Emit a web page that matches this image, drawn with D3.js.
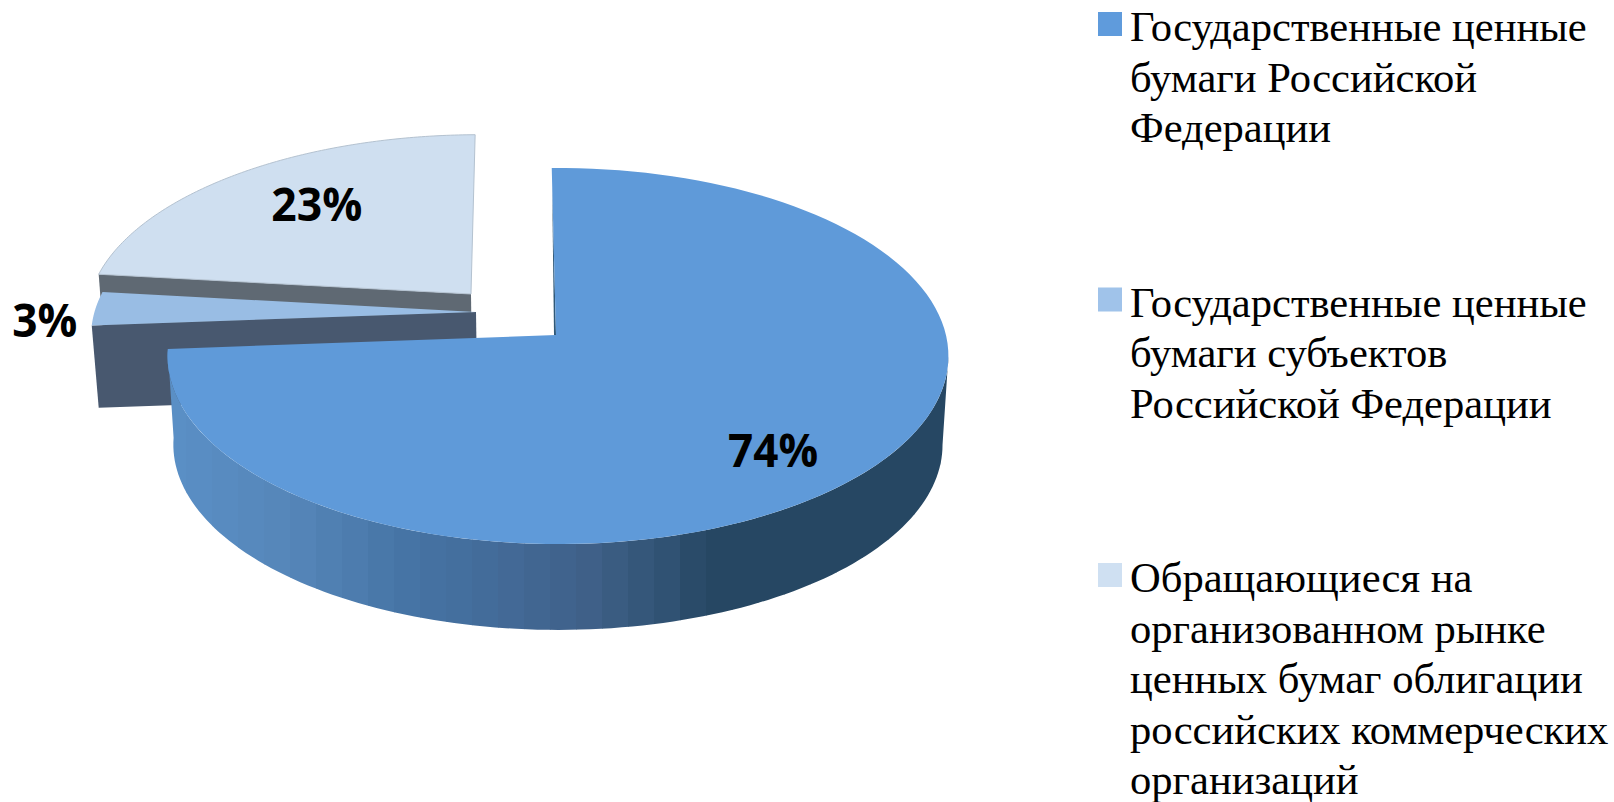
<!DOCTYPE html>
<html>
<head>
<meta charset="utf-8">
<script src="https://cdn.jsdelivr.net/npm/d3@7"></script>
<style>
  html, body { margin: 0; background: #fff; }
  svg { display: block; }
  .pct { font-family: "Open Sans", sans-serif; font-weight: 700; font-size: 47px; fill: #000; }
  .leg { font-family: "Liberation Serif", serif; font-size: 42px; fill: #000; }
</style>
</head>
<body>
<svg id="chart" width="1614" height="802"></svg>
<script>
const values = [74, 3, 23];
const pctLabels = ["74%", "3%", "23%"];
const legendLines = [
  ["Государственные ценные", "бумаги Российской", "Федерации"],
  ["Государственные ценные", "бумаги субъектов", "Российской Федерации"],
  ["Обращающиеся на", "организованном рынке", "ценных бумаг облигации", "российских коммерческих", "организаций"]
];
const topColors = ["#5f9ad9", "#99bde4", "#cfdff0"];
const legendColors = ["#5f9bdc", "#a0c3ea", "#cfe0f2"];
const wallColors = ["#264763", "#48586f", "#5f6973"];
const bandColors = ["#5a8fc6", "#5585b8", "#4675a6", "#436a98", "#3f6088", "#2e5070", "#264763", "#264763"];

// plane offset of each slice (explosion), its radius, depth shift, label tweak
const layout = [
  { ox: 0, oy: 0, r: 1, Rx: 388, skew: 0.005, cyBottom: 424, labelR: 0.75, dx: -11, dy: 15, w: 90 },
  { ox: -0.208, oy: 0.1256, r: 0.992, Rx: 390, skew: 0, cyBottom: 417, labelR: 1.13, dx: 2, dy: 12, w: 65 },
  { ox: -0.2235, oy: 0.2264, r: 1, Rx: 390, skew: 0, cyBottom: 424, labelR: 0.69, dx: 8, dy: -4, w: 91 }
];

const cx = 556, cy = 335, H = 185.7, k = 0.1117, bottomScale = 0.985;
const viewRotation = -0.7 * Math.PI / 180;

const svg = d3.select("#chart");
const line = d3.line();
const pie = d3.pie().sort(null).startAngle(0).endAngle(2 * Math.PI);
const arcs = pie(values);

// perspective: the disc centre lands above the middle of the ellipse
function project(theta, r, l, bottom) {
  const t = theta + viewRotation;
  const X = r * Math.sin(t) + l.ox;
  const Y = r * Math.cos(t) + l.oy;
  const w = 1 + k * Y - l.skew * X;
  const sx = l.Rx * X / w;
  const sy = -H * Y / w;
  if (bottom) return [cx + sx * bottomScale, l.cyBottom + sy * bottomScale];
  return [cx + sx, cy + sy];
}

function sectorPoints(a, l) {
  const n = 120;
  const pts = [project(0, 0, l, false)];
  d3.range(n + 1).forEach((i) => {
    const t = a.startAngle + (a.endAngle - a.startAngle) * i / n;
    pts.push(project(t, l.r, l, false));
  });
  return pts;
}

function radialWall(theta, l) {
  return [
    project(theta, 0, l, false),
    project(theta, l.r, l, false),
    project(theta, l.r, l, true),
    project(theta, 0, l, true)
  ];
}

// back to front: 23%, 3%, then the big slice
[2, 1].forEach((i) => {
  const a = arcs[i], l = layout[i];
  svg.append("path")
    .attr("d", line(radialWall(a.startAngle, l)) + "Z")
    .attr("fill", wallColors[i]);
  svg.append("path")
    .attr("d", line(sectorPoints(a, l)) + "Z")
    .attr("fill", topColors[i])
    .attr("stroke", i === 2 ? "#b4c2d0" : "none")
    .attr("stroke-width", 1);
});

// front wall of the big slice: starts at the rim's rightmost point, bands clipped to it
const mainArc = arcs[0], mainLayout = layout[0];
const wallStart = d3.greatest(d3.range(0, Math.PI, 0.005), (t) => project(t, 1, mainLayout, false)[0]);
const wallAngles = d3.range(0, 121).map((i) => wallStart + (mainArc.endAngle - wallStart) * i / 120);
const wallOutline = wallAngles.map((t) => project(t, 1, mainLayout, false))
  .concat(wallAngles.slice().reverse().map((t) => project(t, 1, mainLayout, true)));

svg.append("clipPath").attr("id", "wallClip")
  .append("path").attr("d", line(wallOutline) + "Z");

const bandX = d3.scaleLinear().domain([168, 297, 400, 500, 590, 680, 705, 950]).range(bandColors);
const bandW = 26;
svg.append("g").attr("clip-path", "url(#wallClip)")
  .selectAll("rect")
  .data(d3.range(160, 950, bandW))
  .join("rect")
  .attr("x", (d) => d)
  .attr("y", 200)
  .attr("width", bandW + 0.5)
  .attr("height", 450)
  .attr("fill", (d) => bandX(d + bandW / 2));

// thin dark sliver on the vertical side of the big slice
const apex = project(0, 0, mainLayout, false);
const sliverTop = project(0, 0.9, mainLayout, false);
svg.append("path")
  .attr("d", line([sliverTop, apex, [apex[0] - 2, apex[1]]]) + "Z")
  .attr("fill", "#2f5878");

svg.append("path")
  .attr("d", line(sectorPoints(mainArc, mainLayout)) + "Z")
  .attr("fill", topColors[0]);

// percent labels
svg.append("g").selectAll("text")
  .data(arcs)
  .join("text")
  .attr("class", "pct")
  .attr("text-anchor", "middle")
  .attr("textLength", (d, i) => layout[i].w)
  .attr("lengthAdjust", "spacingAndGlyphs")
  .attr("x", (d, i) => project((d.startAngle + d.endAngle) / 2, layout[i].labelR, layout[i], false)[0] + layout[i].dx)
  .attr("y", (d, i) => project((d.startAngle + d.endAngle) / 2, layout[i].labelR, layout[i], false)[1] + layout[i].dy + 17)
  .text((d, i) => pctLabels[i]);

// legend, text a touch wider than the font
const legendY = d3.scaleLinear().domain([0, 2]).range([12, 563]);
const legendRows = svg.append("g").selectAll("g")
  .data(legendLines)
  .join("g")
  .attr("transform", (d, i) => `translate(1098,${legendY(i)})`);

legendRows.append("rect")
  .attr("width", 24)
  .attr("height", 24)
  .attr("fill", (d, i) => legendColors[i]);

legendRows.selectAll("text")
  .data((d) => d)
  .join("text")
  .attr("class", "leg")
  .attr("transform", (d, i) => `translate(32,${29 + i * 50.5}) scale(1.014,1)`)
  .text((d) => d);
</script>
</body>
</html>
